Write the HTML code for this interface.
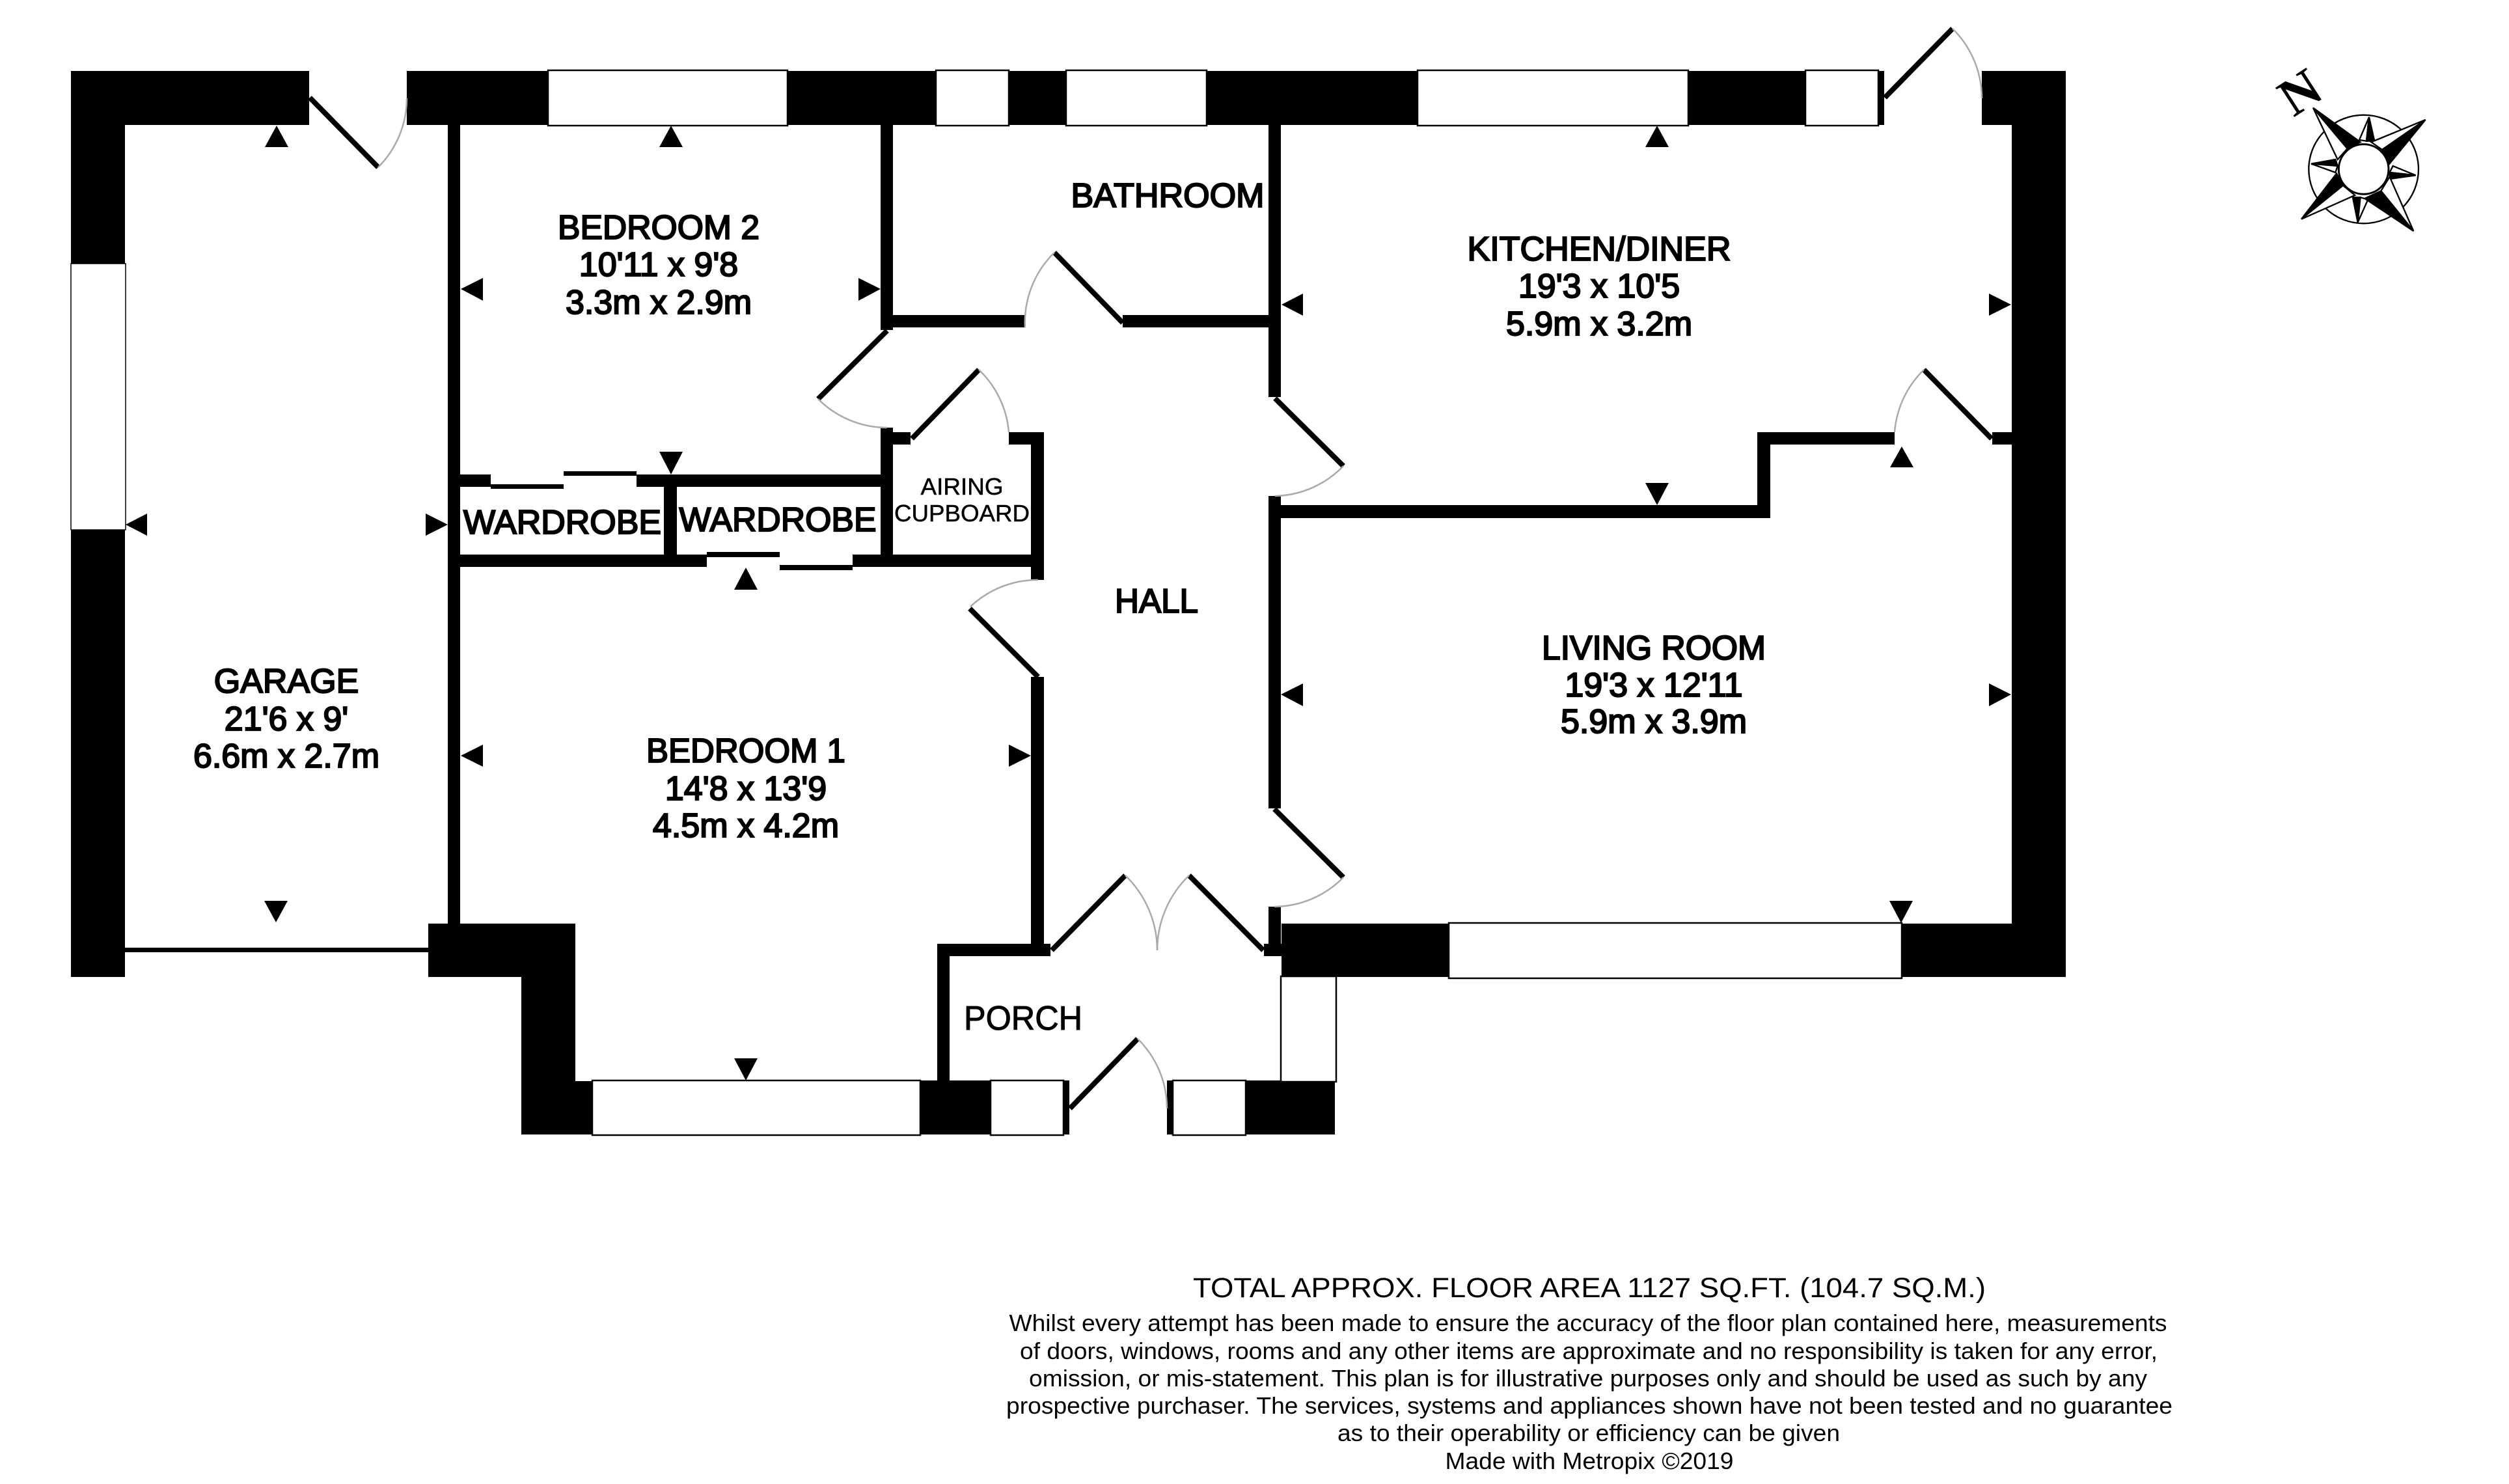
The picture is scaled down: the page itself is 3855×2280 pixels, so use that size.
<!DOCTYPE html>
<html lang="en">
<head>
<meta charset="utf-8">
<title>Floor plan</title>
<style>
html,body{margin:0;padding:0;background:#fff;width:3855px;height:2280px;overflow:hidden}
svg{display:block}
text{font-family:"Liberation Sans",Arial,sans-serif;fill:#000}
.r{font-size:52px;text-anchor:middle;stroke:#000;stroke-width:2.2px}
.a{font-size:36px;text-anchor:middle;stroke:#000;stroke-width:.5px}
.f{font-size:36px;text-anchor:middle}
.d{stroke:#000;stroke-width:8;fill:none}
.c{stroke:#aaa;stroke-width:2.5;fill:none}
.w{fill:#fff;stroke:#000;stroke-width:2.5}
</style>
</head>
<body>
<svg xmlns="http://www.w3.org/2000/svg" width="3855" height="2280" viewBox="0 0 3855 2280">
<rect width="3855" height="2280" fill="#fff"/>
<!-- walls -->
<g fill="#000">
<rect x="109" y="109" width="366" height="83"/>
<rect x="625" y="109" width="2270" height="83"/>
<rect x="3045" y="109" width="129" height="83"/>
<rect x="109" y="109" width="83" height="1392"/>
<rect x="3091" y="109" width="83" height="1392"/>
<rect x="688" y="192" width="19" height="1227"/>
<rect x="1353" y="192" width="19" height="315"/>
<rect x="1353" y="484" width="222" height="19"/>
<rect x="1725" y="484" width="224" height="19"/>
<rect x="1949" y="192" width="19" height="418"/>
<rect x="1353" y="657" width="19" height="214"/>
<rect x="1371" y="664" width="28" height="19"/>
<rect x="1550" y="664" width="54" height="19"/>
<rect x="1584" y="664" width="20" height="227"/>
<rect x="707" y="729" width="47" height="19"/>
<rect x="978" y="729" width="375" height="19"/>
<rect x="754" y="744" width="112" height="7"/>
<rect x="866" y="724" width="112" height="7"/>
<rect x="1020" y="748" width="20" height="104"/>
<rect x="707" y="852" width="379" height="19"/>
<rect x="1086" y="848" width="112" height="8"/>
<rect x="1198" y="868" width="112" height="8"/>
<rect x="1310" y="852" width="294" height="19"/>
<rect x="1949" y="762" width="19" height="480"/>
<rect x="1949" y="776" width="771" height="20"/>
<rect x="2700" y="664" width="20" height="132"/>
<rect x="2700" y="664" width="211" height="19"/>
<rect x="3061" y="664" width="30" height="19"/>
<rect x="192" y="1456" width="466" height="7"/>
<rect x="658" y="1419" width="226" height="82"/>
<rect x="801" y="1419" width="83" height="324"/>
<rect x="801" y="1661" width="109" height="82"/>
<rect x="1584" y="1040" width="20" height="410"/>
<rect x="1440" y="1450" width="174" height="19"/>
<rect x="1440" y="1450" width="19" height="211"/>
<rect x="1949" y="1393" width="19" height="76"/>
<rect x="1942" y="1450" width="27" height="19"/>
<rect x="1969" y="1419" width="1205" height="82"/>
<rect x="1414" y="1660" width="220" height="83"/>
<rect x="1634" y="1660" width="9" height="83"/>
<rect x="1793" y="1660" width="9" height="83"/>
<rect x="1914" y="1660" width="137" height="83"/>
</g>
<!-- windows -->
<g class="w">
<rect class="w" x="842" y="108" width="368" height="85"/>
<rect class="w" x="1438" y="108" width="112" height="85"/>
<rect class="w" x="1638" y="108" width="216" height="85"/>
<rect class="w" x="2178" y="108" width="416" height="85"/>
<rect class="w" x="2774" y="108" width="112" height="85"/>
<rect class="w" x="109" y="405" width="84" height="409" style="stroke-width:1.5"/>
<rect class="w" x="910" y="1660" width="504" height="84"/>
<rect class="w" x="1522" y="1660" width="112" height="84"/>
<rect class="w" x="1802" y="1660" width="112" height="84"/>
<rect class="w" x="1968" y="1500" width="85" height="162"/>
<rect class="w" x="2226" y="1418" width="696" height="85"/>
</g>
<!-- door leaves -->
<g class="d">
<line x1="476" y1="150" x2="581" y2="257"/>
<line x1="2896" y1="150" x2="3000" y2="44"/>
<line x1="1725" y1="496" x2="1620" y2="388"/>
<line x1="1363" y1="508" x2="1257" y2="613"/>
<line x1="1401" y1="674" x2="1504" y2="568"/>
<line x1="1959" y1="612" x2="2064" y2="716"/>
<line x1="3060" y1="674" x2="2956" y2="568"/>
<line x1="1490" y1="935" x2="1595" y2="1040"/>
<line x1="1958" y1="1243" x2="2064" y2="1348"/>
<line x1="1616" y1="1460" x2="1729" y2="1345"/>
<line x1="1941" y1="1460" x2="1827" y2="1345"/>
<line x1="1644" y1="1703" x2="1748" y2="1596"/>
</g>
<!-- door arcs -->
<g class="c">
<path d="M581 257A150 150 0 0 0 625 151"/>
<path d="M3000 44A150 150 0 0 1 3045 151"/>
<path d="M1620 388A150 150 0 0 0 1575 503"/>
<path d="M1257 613A150 150 0 0 0 1363 657"/>
<path d="M1504 568A150 150 0 0 1 1550 664"/>
<path d="M2064 716A150 150 0 0 1 1959 762"/>
<path d="M2956 568A150 150 0 0 0 2911 664"/>
<path d="M1491 932A150 150 0 0 1 1595 891"/>
<path d="M2064 1348A150 150 0 0 1 1958 1393"/>
<path d="M1729 1345A160 160 0 0 1 1778 1460"/>
<path d="M1827 1345A160 160 0 0 0 1778 1460"/>
<path d="M1748 1596A150 150 0 0 1 1793 1703"/>
</g>
<!-- measure arrows -->
<g fill="#000">
<polygon points="425,193 407,226 443,226"/>
<polygon points="1031,193 1013,226 1049,226"/>
<polygon points="2546,193 2528,226 2564,226"/>
<polygon points="708,444 742,427 742,462"/>
<polygon points="1353,444 1319,427 1319,462"/>
<polygon points="1031,729 1013,694 1049,694"/>
<polygon points="193,806 226,789 226,823"/>
<polygon points="688,806 654,789 654,823"/>
<polygon points="1146,872 1128,906 1164,906"/>
<polygon points="424,1417 406,1384 442,1384"/>
<polygon points="708,1161 742,1144 742,1178"/>
<polygon points="1146,1660 1128,1626 1164,1626"/>
<polygon points="1584,1161 1550,1144 1550,1178"/>
<polygon points="1968,1067 2002,1050 2002,1085"/>
<polygon points="3090,1067 3056,1050 3056,1085"/>
<polygon points="2921,1418 2903,1384 2939,1384"/>
<polygon points="1969,468 2002,451 2002,485"/>
<polygon points="3090,468 3056,451 3056,485"/>
<polygon points="2546,776 2528,742 2564,742"/>
<polygon points="2922,686 2904,718 2940,718"/>
</g>
<!-- room labels -->
<text class="r" x="1012" y="367" textLength="310" lengthAdjust="spacingAndGlyphs">BEDROOM 2</text>
<text class="r" x="1012" y="424">10'11 x 9'8</text>
<text class="r" x="1012" y="482">3.3m x 2.9m</text>
<text class="r" x="440" y="1064">GARAGE</text>
<text class="r" x="440" y="1122">21'6 x 9'</text>
<text class="r" x="440" y="1179">6.6m x 2.7m</text>
<text class="r" x="1146" y="1171" textLength="306" lengthAdjust="spacingAndGlyphs">BEDROOM 1</text>
<text class="r" x="1146" y="1229">14'8 x 13'9</text>
<text class="r" x="1146" y="1286">4.5m x 4.2m</text>
<text class="r" x="864" y="820" textLength="304" lengthAdjust="spacingAndGlyphs">WARDROBE</text>
<text class="r" x="1195" y="816" textLength="303" lengthAdjust="spacingAndGlyphs">WARDROBE</text>
<text class="a" x="1478" y="760" textLength="127" lengthAdjust="spacingAndGlyphs">AIRING</text>
<text class="a" x="1478" y="801" textLength="208" lengthAdjust="spacingAndGlyphs">CUPBOARD</text>
<text class="r" x="1794" y="318" textLength="297" lengthAdjust="spacingAndGlyphs">BATHROOM</text>
<text class="r" x="2457" y="400" textLength="405" lengthAdjust="spacingAndGlyphs">KITCHEN/DINER</text>
<text class="r" x="2457" y="457">19'3 x 10'5</text>
<text class="r" x="2457" y="515">5.9m x 3.2m</text>
<text class="r" x="1777" y="941" textLength="128" lengthAdjust="spacingAndGlyphs">HALL</text>
<text class="r" x="2541" y="1013" textLength="344" lengthAdjust="spacingAndGlyphs">LIVING ROOM</text>
<text class="r" x="2541" y="1070">19'3 x 12'11</text>
<text class="r" x="2541" y="1126">5.9m x 3.9m</text>
<text class="r" x="1572" y="1582" textLength="182" lengthAdjust="spacingAndGlyphs" style="stroke-width:1px">PORCH</text>
<!-- footer -->
<text x="2442" y="1993" style="font-size:43px;text-anchor:middle" textLength="1218" lengthAdjust="spacingAndGlyphs">TOTAL APPROX. FLOOR AREA 1127 SQ.FT. (104.7 SQ.M.)</text>
<text class="f" x="2440" y="2045" textLength="1779" lengthAdjust="spacingAndGlyphs">Whilst every attempt has been made to ensure the accuracy of the floor plan contained here, measurements</text>
<text class="f" x="2441" y="2088" textLength="1748" lengthAdjust="spacingAndGlyphs">of doors, windows, rooms and any other items are approximate and no responsibility is taken for any error,</text>
<text class="f" x="2440" y="2130" textLength="1718" lengthAdjust="spacingAndGlyphs">omission, or mis-statement. This plan is for illustrative purposes only and should be used as such by any</text>
<text class="f" x="2442" y="2172" textLength="1792" lengthAdjust="spacingAndGlyphs">prospective purchaser. The services, systems and appliances shown have not been tested and no guarantee</text>
<text class="f" x="2441" y="2214" textLength="772" lengthAdjust="spacingAndGlyphs">as to their operability or efficiency can be given</text>
<text class="f" x="2442" y="2257" textLength="443" lengthAdjust="spacingAndGlyphs">Made with Metropix ©2019</text>
<!-- compass -->
<g transform="translate(3534 142) rotate(-33)">
<text x="0" y="27" style="font-family:'Liberation Serif',serif;font-size:82px;font-weight:bold;text-anchor:middle">N</text>
</g>
<g transform="translate(3450 80) scale(.3333)" stroke="#000" stroke-width="7" stroke-linejoin="miter">
<ellipse cx="545" cy="540" rx="253" ry="250" fill="#fff"/>
<g>
<polygon points="570,300 525,405 558,410" fill="#fff"/>
<polygon points="570,300 558,410 595,410" fill="#000"/>
<polygon points="785,568 680,525 665,555" fill="#fff"/>
<polygon points="785,568 665,555 665,585" fill="#000"/>
<polygon points="518,785 495,670 530,670" fill="#000"/>
<polygon points="518,785 530,670 565,680" fill="#fff"/>
<polygon points="303,515 415,495 425,525" fill="#000"/>
<polygon points="303,515 425,525 415,555" fill="#fff"/>
<polygon points="312,257 425,495 470,445" fill="#fff"/>
<polygon points="312,257 530,415 470,445" fill="#000"/>
<polygon points="830,312 580,415 630,450" fill="#fff"/>
<polygon points="830,312 630,450 660,520" fill="#000"/>
<polygon points="775,825 665,575 625,640" fill="#fff"/>
<polygon points="775,825 625,640 550,675" fill="#000"/>
<polygon points="258,770 420,560 450,615" fill="#000"/>
<polygon points="258,770 450,615 505,660" fill="#fff"/>
</g>
<circle cx="545" cy="540" r="115" fill="#fff" stroke-width="9"/>
</g>
</svg>
</body>
</html>
